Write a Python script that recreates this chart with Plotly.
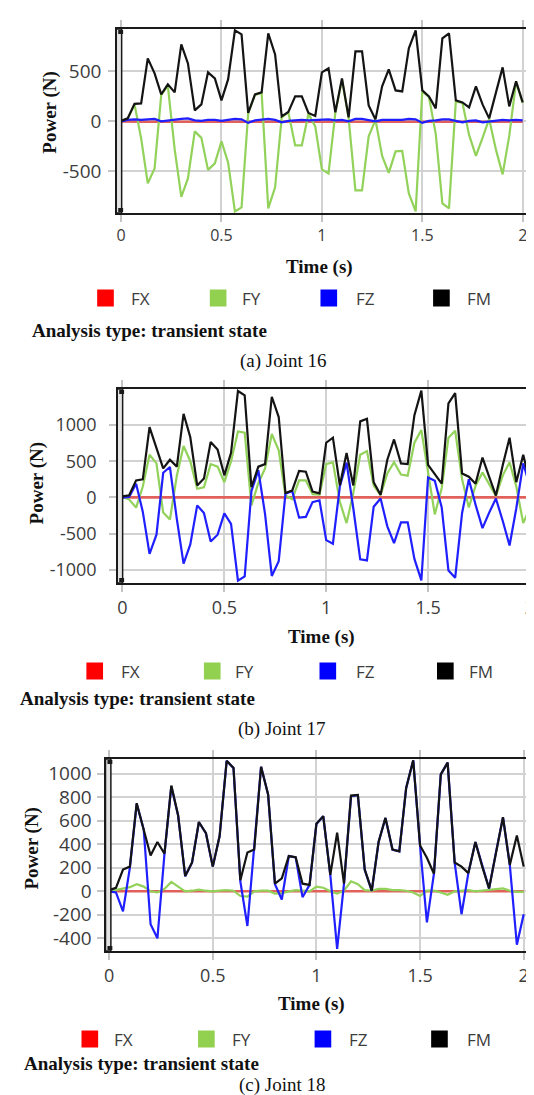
import plotly.graph_objects as go

# ---------------- data ----------------
TIME = [0, 0.033, 0.067, 0.1, 0.133, 0.167, 0.2, 0.233, 0.267, 0.3,
        0.333, 0.367, 0.4, 0.433, 0.467, 0.5, 0.533, 0.567, 0.6, 0.633,
        0.667, 0.7, 0.733, 0.767, 0.8, 0.833, 0.867, 0.9, 0.933, 0.967,
        1.0, 1.033, 1.067, 1.1, 1.133, 1.167, 1.2, 1.233, 1.267, 1.3,
        1.333, 1.367, 1.4, 1.433, 1.467, 1.5, 1.533, 1.567, 1.6, 1.633,
        1.667, 1.7, 1.733, 1.767, 1.8, 1.833, 1.867, 1.9, 1.933, 1.967,
        2.0]

SERIES_NAMES = ["FX", "FY", "FZ", "FM"]

J16_FX = [0, -3, -3, -3, -3, -3, -3, -3, -3, -3,
          -3, -3, -3, -3, -3, -3, -3, -3, -3, -3,
          -3, -3, -3, -3, -3, -3, -3, -3, -3, -3,
          -3, -3, -3, -3, -3, -3, -3, -3, -3, -3,
          -3, -3, -3, -3, -3, -3, -3, -3, -3, -3,
          -3, -3, -3, -3, -3, -3, -3, -3, -3, -3,
          -3]
J16_FY = [0, 25, 170, -170, -620, -470, 265, 355, -280, -755,
          -570, -100, -165, -485, -420, -200, -410, -900, -860, 80,
          265, 285, -870, -660, 40, 90, -240, -240, 75, -50,
          -480, -520, 85, 420, 35, -690, -690, -150, 15, -345,
          -515, -300, -295, -720, -900, 300, 245, -125, -820, -870,
          200, 185, -135, -345, -165, 25, -285, -530, -145, 395,
          185]
J16_FZ = [0, 15, 20, 15, 20, 25, 0, 10, 20, 25,
          30, 10, 5, 15, 15, 5, 15, 25, 20, -15,
          10, 20, 25, 15, -10, 5, 10, 15, 10, 15,
          15, 20, 10, 15, 0, 25, 25, 10, 0, 15,
          15, 10, 15, 25, 20, -15, 5, 10, 20, 20,
          5, -10, 5, 10, -10, 0, 10, 15, 10, 15,
          10]
J16_FM = [5, 30, 175, 180, 630, 480, 270, 370, 290, 770,
          580, 110, 170, 490, 430, 210, 420, 910, 870, 85,
          270, 290, 880, 670, 50, 95, 250, 250, 85, 55,
          490, 530, 90, 430, 40, 700, 700, 160, 20, 350,
          520, 310, 300, 730, 910, 310, 250, 130, 830, 880,
          210, 190, 140, 350, 170, 30, 290, 540, 150, 400,
          190]

J17_FX = [0, 0, 0, 0, 0, 0, 0, 0, 0, 0,
          0, 0, 0, 0, 0, 0, 0, 0, 0, 0,
          0, 0, 0, 0, 0, 0, 0, 0, 0, 0,
          0, 0, 0, 0, 0, 0, 0, 0, 0, 0,
          0, 0, 0, 0, 0, 0, 0, 0, 0, 0,
          0, 0, 0, 0, 0, 0, 0, 0, 0, 0,
          0]
J17_FY = [5, -30, -140, 150, 590, 470, -210, -305, 300, 710,
          500, 120, 140, 460, 425, 210, 495, 910, 895, -110,
          200, 400, 875, 650, 25, -25, 235, 235, 45, 40,
          460, 485, -60, -355, 60, 590, 640, 165, 30, 330,
          485, 315, 300, 755, 930, 355, -235, 130, 825, 920,
          250, -140, 160, 345, 190, 20, 305, 485, 150, -355,
          -140]
J17_FZ = [-5, 5, 190, -200, -780, -515, 340, 420, -300, -915,
          -650, -110, -215, -610, -515, -220, -365, -1150, -1090, 85,
          375, -230, -1085, -880, 50, 90, -280, -270, -65, -40,
          -590, -640, 150, 480, -150, -855, -870, -130, -15, -400,
          -630, -345, -345, -850, -1145, 275, 230, -140, -1010, -1110,
          -215, 250, -100, -425, -210, -15, -330, -665, -150, 470,
          155]
J17_FM = [15, 30, 235, 250, 970, 690, 400, 520, 425, 1155,
          830, 165, 260, 765, 660, 305, 615, 1470, 1410, 140,
          425, 460, 1390, 1110, 60, 95, 365, 355, 80, 55,
          755, 825, 165, 615, 165, 1050, 1085, 210, 35, 520,
          800, 470, 460, 1135, 1475, 450, 330, 190, 1300, 1440,
          330, 285, 190, 550, 285, 25, 450, 825, 210, 590,
          210]

J18_FX = [0, 0, 0, 0, 0, 0, 0, 0, 0, 0,
          0, 0, 0, 0, 0, 0, 0, 0, 0, 0,
          0, 0, 0, 0, 0, 0, 0, 0, 0, 0,
          0, 0, 0, 0, 0, 0, 0, 0, 0, 0,
          0, 0, 0, 0, 0, 0, 0, 0, 0, 0,
          0, 0, 0, 0, 0, 0, 0, 0, 0, 0,
          0]
J18_FY = [0, 10, 20, 35, 60, 40, 0, -10, 20, 80,
          40, 0, 5, 15, 5, 0, 5, 10, 5, -40,
          -45, 0, 5, 5, -20, -15, 0, 10, 5, 0,
          40, 30, 0, -20, 5, 85, 60, 10, 5, 20,
          20, 10, 10, 5, -10, -40, 5, 5, -10, -30,
          0, 5, 10, 0, 5, 10, 20, 25, 5, -5,
          -5]
J18_FZ = [0, -10, -170, 200, 745, 525, -280, -400, 318, 895,
          643, 128, 244, 588, 494, 210, 470, 1110, 1050, 85,
          -295, 352, 1060, 823, 60, -70, 300, 289, -50, 55,
          573, 639, 140, -490, 63, 810, 818, 184, 3, 419,
          624, 355, 340, 880, 1115, 388, -265, 150, 995, 1095,
          245, -195, 155, 420, 210, 23, 340, 629, 225, -455,
          -195]
J18_FM = [10, 30, 185, 210, 750, 530, 305, 420, 320, 900,
          645, 130, 245, 590, 495, 210, 470, 1110, 1050, 95,
          330, 355, 1060, 825, 65, 110, 300, 290, 65, 55,
          575, 640, 140, 500, 65, 815, 820, 185, 5, 420,
          625, 355, 340, 880, 1115, 390, 285, 150, 995, 1095,
          245, 210, 155, 420, 210, 25, 340, 630, 225, 475,
          210]

X_TICKS = [0, 0.5, 1, 1.5, 2]
X_TICK_LABELS = ["0", "0.5", "1", "1.5", "2"]
Y_TICKS_16 = [-500, 0, 500]
Y_TICK_LABELS_16 = ["-500", "0", "500"]
Y_TICKS_17 = [-1000, -500, 0, 500, 1000]
Y_TICK_LABELS_17 = ["-1000", "-500", "0", "500", "1000"]
Y_TICKS_18 = [-400, -200, 0, 200, 400, 600, 800, 1000]
Y_TICK_LABELS_18 = ["-400", "-200", "0", "200", "400", "600", "800", "1000"]

X_TITLE = "Time (s)"
Y_TITLE = "Power (N)"
NOTE = "Analysis type: transient state"
CAPTIONS = ["(a) Joint 16", "(b) Joint 17", "(c) Joint 18"]

# ---------------- style / layout ----------------
W, H = 534, 1095
LINE_COLORS = ["#e0605c", "#92d25a", "#1f1fff", "#141414"]
LINE_WIDTHS = [2.6, 2.2, 2.2, 2.2]
LEGEND_COLORS = ["#ff0000", "#92d050", "#0000ff", "#000000"]
SANS = "Open Sans"
SERIF = "Liberation Serif"
TXT = "#3c3c3c"

PANELS = [
    dict(data=[J16_FX, J16_FY, J16_FZ, J16_FM],
         yticks=Y_TICKS_16, ylabels=Y_TICK_LABELS_16,
         box=(109.5, 528, 21, 205), xr=(-0.019, 2.022), yr=(-916, 924),
         yfs=19, xfs=16, ystand=3,
         ytitle=(40, 104.5), xtitle=(316.5, 259),
         leg_sq=[89, 204, 317, 432], leg_tx=[121, 235, 351, 465], leg_y=290,
         note=(20, 322.5), cap=(279, 353)),
    dict(data=[J17_FX, J17_FY, J17_FZ, J17_FM],
         yticks=Y_TICKS_17, ylabels=Y_TICK_LABELS_17,
         box=(110.5, 534, 381, 575), xr=(-0.0207, 2.015), yr=(-1182, 1497),
         yfs=18, xfs=18, ystand=9,
         ytitle=(28, 475), xtitle=(318.5, 629),
         leg_sq=[78, 198, 316, 436], leg_tx=[111, 228, 351, 467], leg_y=663,
         note=(8.5, 690.5), cap=(278, 721)),
    dict(data=[J18_FX, J18_FY, J18_FZ, J18_FM],
         yticks=Y_TICKS_18, ylabels=Y_TICK_LABELS_18,
         box=(98.5, 528, 751, 943), xr=(-0.0128, 2.0165), yr=(-508, 1126),
         yfs=19, xfs=18, ystand=2,
         ytitle=(22, 841), xtitle=(308, 995.5),
         leg_sq=[73, 192, 311, 430], leg_tx=[104, 225, 344, 465], leg_y=1031,
         note=(12, 1055), cap=(278, 1077)),
]


def px(x):
    return x / W


def py(y):
    return 1 - y / H


fig = go.Figure()
shapes = []
annotations = []
layout = dict(width=W, height=H, margin=dict(l=0, r=0, t=0, b=0),
              paper_bgcolor="white", plot_bgcolor="white", showlegend=False)

for i, p in enumerate(PANELS):
    n = "" if i == 0 else str(i + 1)
    l, r, t, b = p["box"]
    for k, name in enumerate(SERIES_NAMES):
        fig.add_trace(go.Scatter(
            x=TIME, y=p["data"][k], mode="lines", name=name,
            line=dict(color=LINE_COLORS[k], width=LINE_WIDTHS[k]),
            xaxis="x" + n, yaxis="y" + n, hoverinfo="skip"))
    common = dict(showline=True, linecolor="#1a1a1a", linewidth=2,
                  mirror="allticks", ticks="outside", ticklen=7,
                  tickcolor="#c4c4c4", tickwidth=1.5,
                  showgrid=True, gridcolor="#d2d2d2", gridwidth=1.5,
                  zeroline=False)
    layout["xaxis" + n] = dict(
        common, domain=[px(l), px(r)], range=list(p["xr"]),
        anchor="y" + n, tickvals=X_TICKS, ticktext=X_TICK_LABELS,
        tickfont=dict(family=SANS, size=p["xfs"], color=TXT))
    layout["yaxis" + n] = dict(
        common, domain=[py(b), py(t)], range=list(p["yr"]),
        anchor="x" + n, tickvals=p["yticks"], ticktext=p["ylabels"],
        ticklabelstandoff=p["ystand"],
        tickfont=dict(family=SANS, size=p["yfs"], color=TXT))

    # left double border decoration with corner marks
    shapes.append(dict(type="rect", xref="paper", yref="paper",
                       x0=px(l - 1), x1=px(l + 4.5), y0=py(b), y1=py(t),
                       fillcolor="#e4e4e4", line=dict(color="#1a1a1a", width=1.5),
                       layer="above"))
    for yy in (t + 1, b - 5):
        shapes.append(dict(type="rect", xref="paper", yref="paper",
                           x0=px(l + 1), x1=px(l + 6), y0=py(yy + 4), y1=py(yy),
                           fillcolor="#1a1a1a", line=dict(width=0), layer="above"))

    # axis titles
    annotations.append(dict(text="<b>%s</b>" % Y_TITLE, xref="paper", yref="paper",
                            x=px(p["ytitle"][0]), y=py(p["ytitle"][1]),
                            xanchor="center", yanchor="middle", textangle=-90,
                            showarrow=False,
                            font=dict(family=SERIF, size=19, color="#111")))
    annotations.append(dict(text="<b>%s</b>" % X_TITLE, xref="paper", yref="paper",
                            x=px(p["xtitle"][0]), y=py(p["xtitle"][1]),
                            xanchor="center", yanchor="middle", showarrow=False,
                            font=dict(family=SERIF, size=19, color="#111")))
    # legend
    ly = p["leg_y"]
    for k, name in enumerate(SERIES_NAMES):
        sx = p["leg_sq"][k]
        shapes.append(dict(type="rect", xref="paper", yref="paper",
                           x0=px(sx), x1=px(sx + 17), y0=py(ly + 8.5), y1=py(ly - 8.5),
                           fillcolor=LEGEND_COLORS[k], line=dict(width=0)))
        annotations.append(dict(text=name, xref="paper", yref="paper",
                                x=px(p["leg_tx"][k]), y=py(ly),
                                xanchor="left", yanchor="middle", showarrow=False,
                                font=dict(family=SANS, size=17, color=TXT)))
    annotations.append(dict(text="<b>%s</b>" % NOTE, xref="paper", yref="paper",
                            x=px(p["note"][0]), y=py(p["note"][1]),
                            xanchor="left", yanchor="middle", showarrow=False,
                            font=dict(family=SERIF, size=19, color="#111")))
    annotations.append(dict(text=CAPTIONS[i], xref="paper", yref="paper",
                            x=px(p["cap"][0]), y=py(p["cap"][1]),
                            xanchor="center", yanchor="middle", showarrow=False,
                            font=dict(family=SERIF, size=19, color="#111")))

layout["shapes"] = shapes
layout["annotations"] = annotations
fig.update_layout(**layout)
fig.write_html("out.html")
